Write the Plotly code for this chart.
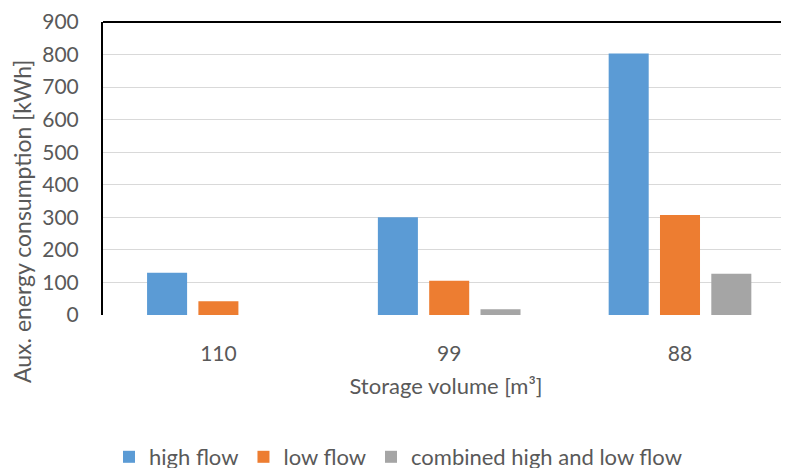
import plotly.graph_objects as go

categories = ["110", "99", "88"]
high_flow = [130, 300, 803]
low_flow = [42, 105, 307]
combined_flow = [0, 18, 127]
series_names = ["high flow", "low flow", "combined high and low flow"]
y_ticks = [0, 100, 200, 300, 400, 500, 600, 700, 800, 900]

colors = ["#5B9BD5", "#ED7D31", "#A5A5A5"]
FONT = "Lato"
GREY = "#595959"

fig = go.Figure()
for name, vals, col in zip(series_names, [high_flow, low_flow, combined_flow], colors):
    fig.add_trace(go.Bar(x=categories, y=vals, name=name, marker=dict(color=col, line=dict(width=0))))

# page body has an 8px margin, so figure coords = page coords - 8
OFF = 8
W, H = 789 - OFF, 468 - OFF
L, T = 103 - OFF, 22 - OFF
B = H - (315 - OFF)
plot_w = W - L
plot_h = H - T - B
cat_w = 230.8
xmax = -0.5 + plot_w / cat_w

fig.update_layout(
    width=W, height=H,
    margin=dict(l=L, r=0, t=T, b=B, autoexpand=False),
    paper_bgcolor="white", plot_bgcolor="white",
    barmode="group", bargap=0.333, bargroupgap=0.22,
    font=dict(family=FONT, size=21, color=GREY),
    showlegend=True,
    legend=dict(orientation="h", xref="container", yref="paper",
                x=(398 - OFF) / W, y=-((436 - OFF) - (H - B)) / plot_h,
                xanchor="center", yanchor="top",
                font=dict(family=FONT, size=22, color=GREY),
                itemwidth=30, tracegroupgap=0),
    xaxis=dict(type="category", range=[-0.5, xmax], showgrid=False, showline=False,
               zeroline=False, ticks="", ticklabelstandoff=24, automargin=False,
               tickfont=dict(family=FONT, size=21, color=GREY),
               title=dict(text="Storage volume [m³]", standoff=14,
                          font=dict(family=FONT, size=22, color=GREY))),
    yaxis=dict(range=[0, 900], tickvals=y_ticks, showgrid=True, gridcolor="#d9d9d9",
               gridwidth=1, zeroline=False, showline=True, linecolor="black", linewidth=2,
               ticks="", ticklabelstandoff=18, automargin=False,
               tickfont=dict(family=FONT, size=21, color=GREY)),
    shapes=[dict(type="line", xref="paper", yref="paper", x0=0, x1=1, y0=1, y1=1,
                 line=dict(color="black", width=2))],
    annotations=[dict(text="Aux. energy consumption [kWh]", textangle=-90,
                      xref="paper", yref="paper", x=(22 - 103) / plot_w,
                      y=((H - B) - (222 - OFF)) / plot_h, xanchor="center", yanchor="middle",
                      showarrow=False, font=dict(family=FONT, size=23, color=GREY))],
)

fig.write_html("out.html")
